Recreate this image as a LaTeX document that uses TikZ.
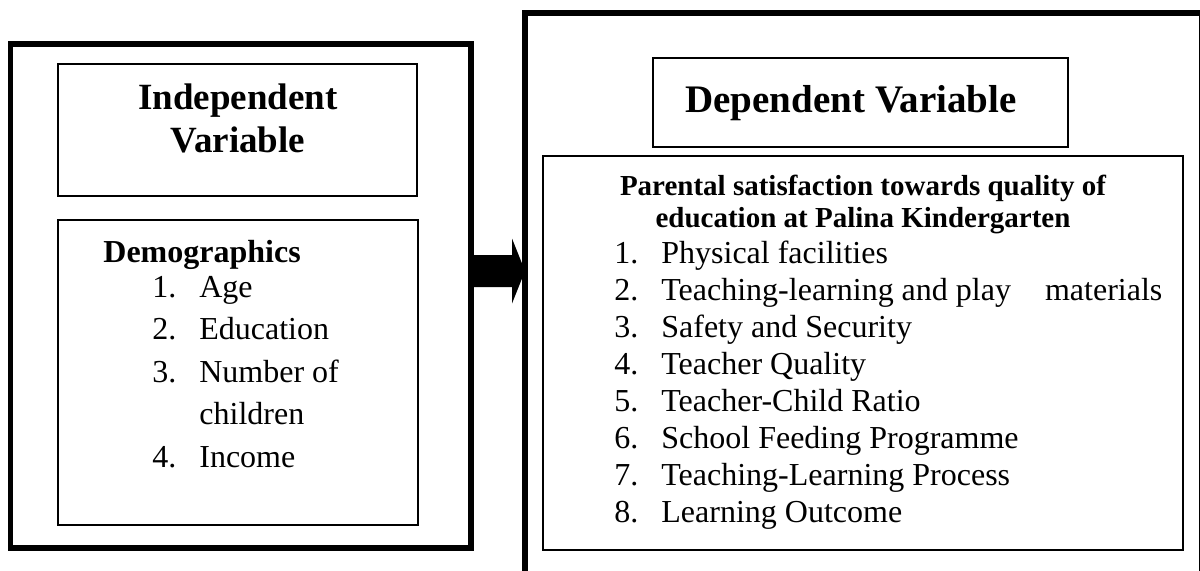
\documentclass[tikz,border=0pt]{standalone}
\usepackage{fontspec}
\setmainfont{Liberation Serif}
\usepackage{tikz}
\tikzstyle{outerframe} = [draw, line width=2.75pt, inner sep=0pt, outer sep=0pt]
\tikzstyle{panel} = [draw, line width=0.9pt, inner sep=0pt, outer sep=0pt]
\tikzstyle{titletext} = [font=\fontsize{18.5}{21.5}\selectfont\bfseries, align=center, inner sep=0pt]
\tikzstyle{listtext} = [font=\fontsize{16}{18.5}\selectfont, align=left, inner sep=0pt]
\newcommand{\numitem}[2]{\makebox[23.5pt][l]{#1}#2}

\begin{document}
\begin{tikzpicture}[x=0.5pt,y=-0.5pt]
	\useasboundingbox (0,0) rectangle (1200,570);
	\clip (0,0) rectangle (1200,570);
	% independent side
	\node[outerframe, minimum width=230.25pt, minimum height=252pt] (indframe) at (240.75,296) {};
	\node[panel, minimum width=179.5pt, minimum height=66pt] (indtitle) at (237.5,130) {};
	\node[panel, minimum width=180pt, minimum height=152.5pt] (indlist) at (238,372.5) {};
	\node[titletext, anchor=base] (indlabel) at (238,152) {Independent\\Variable};
	\node[listtext, font=\fontsize{16}{21.25}\selectfont, anchor=base west] (demographics) at (103,467) {
		\textbf{Demographics}\\[-3.75pt]
		\hspace*{24.5pt}\numitem{1.}{Age}\\
		\hspace*{24.5pt}\numitem{2.}{Education}\\
		\hspace*{24.5pt}\numitem{3.}{Number of}\\
		\hspace*{48pt}children\\
		\hspace*{24.5pt}\numitem{4.}{Income}};
	% dependent side
	\node[outerframe, minimum width=338.5pt, minimum height=293.5pt] (depframe) at (863.5,306.5) {};
	\node[panel, minimum width=207.5pt, minimum height=44.5pt] (deptitle) at (860.5,102.5) {};
	\node[panel, minimum width=320pt, minimum height=197pt] (deplist) at (863,353) {};
	\node[titletext, font=\fontsize{19.5}{22}\selectfont\bfseries, anchor=base] (deplabel) at (851,112) {Dependent Variable};
	\node[font=\fontsize{14.5}{16}\selectfont\bfseries, align=center, inner sep=0pt, anchor=base] (satisfaction) at (863,227) {Parental satisfaction towards quality of\\education at Palina Kindergarten};
	\node[listtext, anchor=base west] (dimensions) at (614,522) {
		\numitem{1.}{Physical facilities}\\
		\numitem{2.}{Teaching-learning and play\hspace{17pt}materials}\\
		\numitem{3.}{Safety and Security}\\
		\numitem{4.}{Teacher Quality}\\
		\numitem{5.}{Teacher-Child Ratio}\\
		\numitem{6.}{School Feeding Programme}\\
		\numitem{7.}{Teaching-Learning Process}\\
		\numitem{8.}{Learning Outcome}};
	% block arrow between the two frames
	\coordinate (tip) at (525,271);
	\fill (indframe.east |- tip) ++(0pt,8pt) -- ++(20.5pt,0pt) -- ++(0pt,8.25pt) -- (tip)
		-- ++(-6.5pt,-16.25pt) -- ++(0pt,8.25pt) -- ++(-20.5pt,0pt) -- cycle;
\end{tikzpicture}
\end{document}
